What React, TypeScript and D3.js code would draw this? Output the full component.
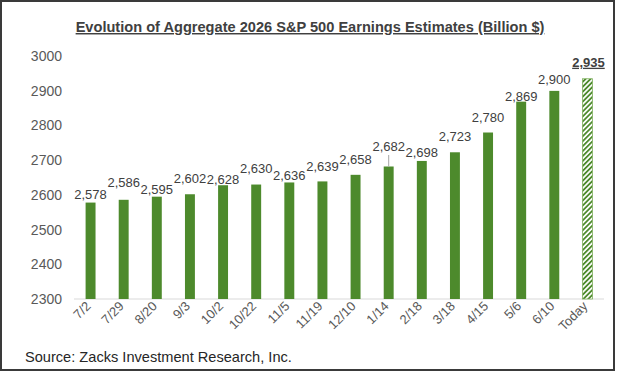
import React, { useEffect, useRef } from 'react';
import * as d3 from 'd3';

const dates = ['7/2', '7/29', '8/20', '9/3', '10/2', '10/22', '11/5', '11/19', '12/10', '1/14', '2/18', '3/18', '4/15', '5/6', '6/10', 'Today'];
const estimates = [2578, 2586, 2595, 2602, 2628, 2630, 2636, 2639, 2658, 2682, 2698, 2723, 2780, 2869, 2900, 2935];
const yTicks = [2300, 2400, 2500, 2600, 2700, 2800, 2900, 3000];

// label gap above each bar (px), as placed in the original
const labelLift = [4, 12.5, 3, 11, 1, 12, 2.5, 10.5, 10.5, 15.5, 3.5, 11, 11, 1, 7, 12];

const W = 619;
const H = 373;
const green = '#4d8a2c';

export default function App() {
    const ref = useRef(null);

    useEffect(() => {
        document.body.style.margin = '0';
        const svg = d3.select(ref.current);
        svg.selectAll('*').remove();

        const x = d3.scaleBand().domain(dates).range([74, 604]).paddingInner(0.7).paddingOuter(0.35);
        const y = d3.scaleLinear().domain([2300, 3000]).range([299, 56.2]);

        const defs = svg.append('defs');
        const pat = defs.append('pattern')
            .attr('id', 'hatch')
            .attr('patternUnits', 'userSpaceOnUse')
            .attr('width', 3.5)
            .attr('height', 3.5)
            .attr('patternTransform', 'rotate(45)');
        pat.append('rect').attr('width', 3.5).attr('height', 3.5).attr('fill', '#fff');
        pat.append('rect').attr('width', 1.8).attr('height', 3.5).attr('fill', green);

        svg.append('rect').attr('width', W).attr('height', H).attr('fill', '#fff');

        // frame
        svg.append('rect')
            .attr('x', 1).attr('y', 1)
            .attr('width', 613).attr('height', 369)
            .attr('fill', 'none')
            .attr('stroke', '#3a3a3a')
            .attr('stroke-width', 2);

        svg.append('text')
            .attr('x', 310).attr('y', 32)
            .attr('text-anchor', 'middle')
            .attr('font-family', 'Liberation Sans, Arial, sans-serif')
            .attr('font-size', 14.6)
            .attr('font-weight', 'bold')
            .attr('fill', '#404040')
            .attr('text-decoration', 'underline')
            .text('Evolution of Aggregate 2026 S&P 500 Earnings Estimates (Billion $)');

        // y labels
        svg.append('g').selectAll('text')
            .data(yTicks)
            .enter()
            .append('text')
            .attr('x', 62)
            .attr('y', (d) => y(d))
            .attr('dy', '0.35em')
            .attr('text-anchor', 'end')
            .attr('font-family', 'Liberation Sans, Arial, sans-serif')
            .attr('font-size', 14)
            .attr('fill', '#595959')
            .text((d) => d);

        // baseline
        svg.append('line')
            .attr('x1', 74).attr('x2', 604)
            .attr('y1', y(2300)).attr('y2', y(2300))
            .attr('stroke', '#d9d9d9')
            .attr('stroke-width', 1);

        const last = dates.length - 1;

        svg.append('g').selectAll('rect')
            .data(estimates)
            .enter()
            .append('rect')
            .attr('x', (_, i) => x(dates[i]))
            .attr('y', (d) => y(d))
            .attr('width', x.bandwidth())
            .attr('height', (d) => y(2300) - y(d))
            .attr('fill', (_, i) => i === last ? 'url(#hatch)' : green)
            .attr('stroke', (_, i) => i === last ? '#7fb05e' : 'none')
            .attr('stroke-width', 0.8);

        // leader line for 1/14
        const li = dates.indexOf('1/14');
        svg.append('line')
            .attr('x1', x(dates[li]) + x.bandwidth() / 2)
            .attr('x2', x(dates[li]) + x.bandwidth() / 2)
            .attr('y1', y(estimates[li]) - labelLift[li] + 4)
            .attr('y2', y(estimates[li]))
            .attr('stroke', '#a6a6a6')
            .attr('stroke-width', 1);

        svg.append('g').selectAll('text')
            .data(estimates)
            .enter()
            .append('text')
            .attr('x', (_, i) => x(dates[i]) + x.bandwidth() / 2 + (i === last ? 1 : 0))
            .attr('y', (d, i) => y(d) - labelLift[i])
            .attr('text-anchor', 'middle')
            .attr('font-family', 'Liberation Sans, Arial, sans-serif')
            .attr('font-size', 13)
            .attr('font-weight', (_, i) => i === last ? 'bold' : 'normal')
            .attr('text-decoration', (_, i) => i === last ? 'underline' : 'none')
            .attr('fill', '#404040')
            .text((d) => d3.format(',')(d));

        // x labels
        svg.append('g').selectAll('text')
            .data(dates)
            .enter()
            .append('text')
            .attr('transform', (d) => `translate(${x(d) + x.bandwidth() / 2 + 1}, ${307}) rotate(-45)`)
            .attr('text-anchor', 'end')
            .attr('font-family', 'Liberation Sans, Arial, sans-serif')
            .attr('font-size', 13)
            .attr('fill', '#595959')
            .text((d) => d);

        svg.append('text')
            .attr('x', 25).attr('y', 362)
            .attr('font-family', 'Liberation Sans, Arial, sans-serif')
            .attr('font-size', 14.6)
            .attr('fill', '#262626')
            .text('Source: Zacks Investment Research, Inc.');
    }, []);

    return <svg ref={ref} width={W} height={H} style={{ display: 'block' }}></svg>;
}
